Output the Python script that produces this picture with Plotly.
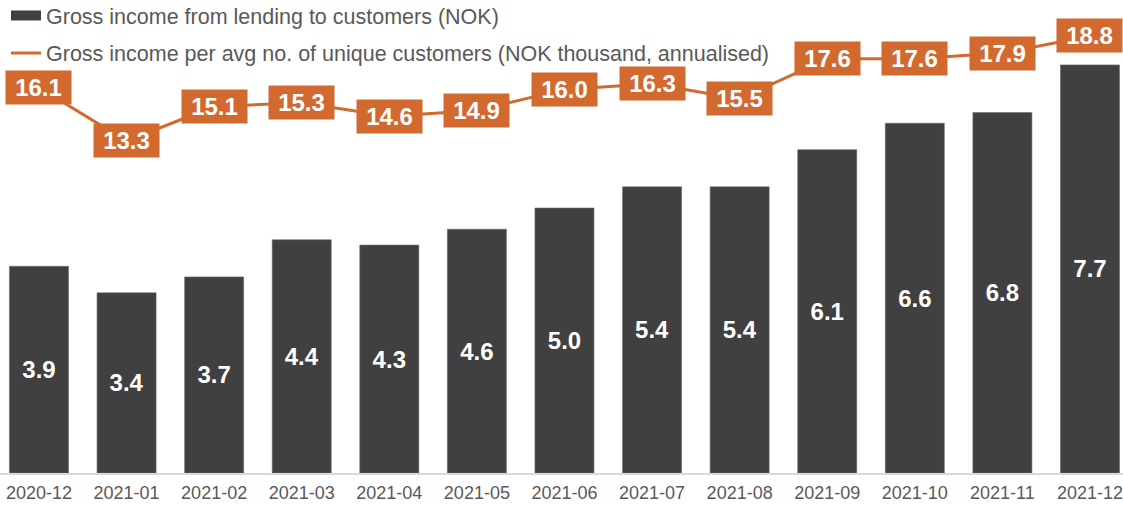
import plotly.graph_objects as go

months = ["2020-12", "2021-01", "2021-02", "2021-03", "2021-04", "2021-05", "2021-06",
          "2021-07", "2021-08", "2021-09", "2021-10", "2021-11", "2021-12"]
gross_income = [3.9, 3.4, 3.7, 4.4, 4.3, 4.6, 5.0, 5.4, 5.4, 6.1, 6.6, 6.8, 7.7]
income_per_customer = [16.1, 13.3, 15.1, 15.3, 14.6, 14.9, 16.0, 16.3, 15.5, 17.6, 17.6, 17.9, 18.8]

bar_name = "Gross income from lending to customers (NOK)"
line_name = "Gross income per avg no. of unique customers (NOK thousand, annualised)"

BAR_COLOR = "#404040"
LINE_COLOR = "#D2692F"
TEXT_GREY = "#595959"
FONT = "Liberation Sans, Arial, sans-serif"

fig = go.Figure()

fig.add_trace(go.Bar(
    x=months, y=gross_income,
    name=bar_name, showlegend=False,
    marker=dict(color=BAR_COLOR, line=dict(color="#6a6a6a", width=0.6)),
    width=0.674,
    text=[f"{v:.1f}" for v in gross_income],
    textposition="inside", insidetextanchor="middle",
    textangle=0, constraintext="none",
    textfont=dict(color="white", size=24, family=FONT, weight="bold"),
    hoverinfo="skip",
))

# legend entry for the bars, drawn as a wide dark block
fig.add_trace(go.Scatter(
    x=[None], y=[None], mode="lines", name=bar_name,
    line=dict(color=BAR_COLOR, width=11), legend="legend",
))

fig.add_trace(go.Scatter(
    x=months, y=income_per_customer, yaxis="y2",
    mode="lines", name=line_name, legend="legend2",
    line=dict(color=LINE_COLOR, width=3),
    hoverinfo="skip",
))

for m, v in zip(months, income_per_customer):
    fig.add_annotation(
        x=m, y=v, xref="x", yref="y2", text=f"{v:.1f}",
        showarrow=False, bgcolor=LINE_COLOR,
        width=61, height=29, borderpad=2,
        font=dict(color="white", size=24, family=FONT, weight="bold"),
    )

legend_style = dict(
    font=dict(size=21.5, color=TEXT_GREY, family=FONT),
    bgcolor="rgba(0,0,0,0)", xanchor="left", yanchor="middle",
    itemwidth=30, borderwidth=0,
)

fig.update_layout(
    width=1123, height=505,
    margin=dict(l=0, r=0, t=0, b=32, autoexpand=False),
    paper_bgcolor="white", plot_bgcolor="white",
    font=dict(family=FONT, color=TEXT_GREY),
    xaxis=dict(
        type="category", range=[-0.445, 12.377],
        showline=True, linecolor="#d9d9d9", linewidth=2,
        showgrid=False, ticks="", zeroline=False, automargin=False,
        ticklabelstandoff=2,
        tickfont=dict(size=18, color=TEXT_GREY, family=FONT),
        fixedrange=True,
    ),
    yaxis=dict(range=[0, 473 / 53.0], visible=False, fixedrange=True),
    yaxis2=dict(range=[-4.08, 20.68], overlaying="y", visible=False, fixedrange=True),
    legend=dict(x=6 / 1123, y=1 - 15.5 / 473, **legend_style),
    legend2=dict(x=6 / 1123, y=1 - 53 / 473, **legend_style),
)

fig.write_html("out.html")
